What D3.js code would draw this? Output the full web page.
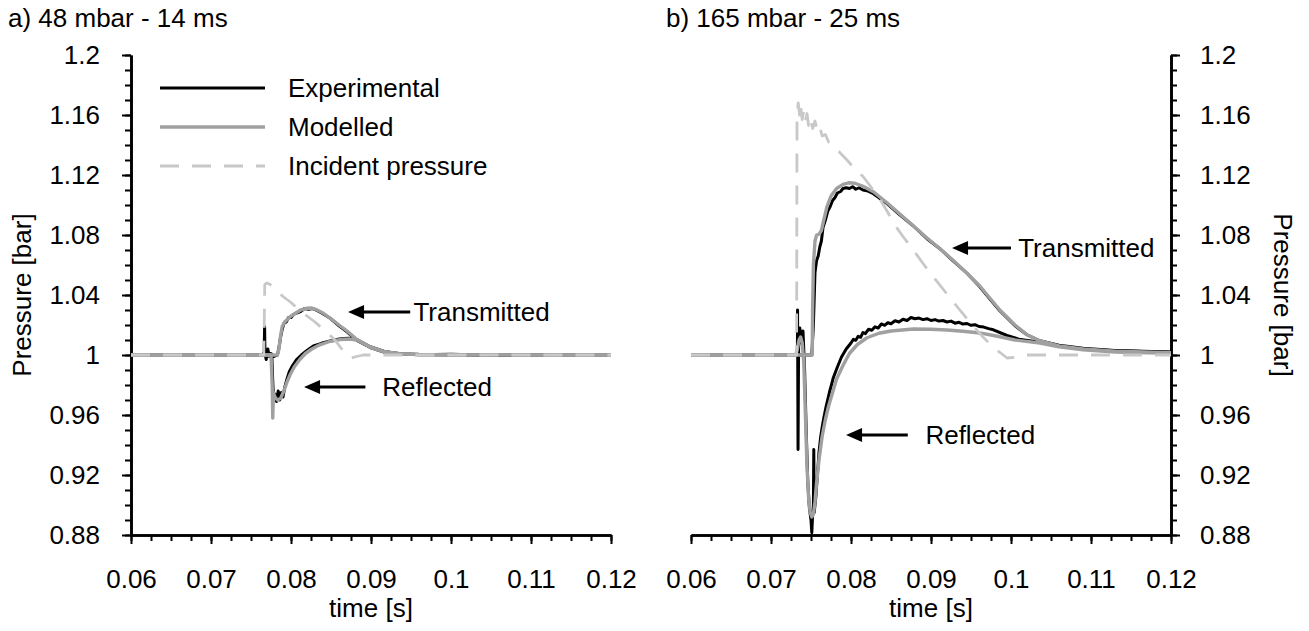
<!DOCTYPE html>
<html>
<head>
<meta charset="utf-8">
<script src="https://cdn.jsdelivr.net/npm/d3@7"></script>
<style>
  body { margin: 0; background: #fff; }
  svg { display: block; }
  text { font-family: "Liberation Sans", Arial, sans-serif; font-size: 26px; fill: #000; }
</style>
</head>
<body>
<svg id="chart" width="1309" height="631"></svg>
<script>
// Tick values and labels shared by both panels
const pressureTicks = [0.88, 0.92, 0.96, 1, 1.04, 1.08, 1.12, 1.16, 1.2];
const pressureLabels = ["0.88", "0.92", "0.96", "1", "1.04", "1.08", "1.12", "1.16", "1.2"];
const timeTicks = [0.06, 0.07, 0.08, 0.09, 0.1, 0.11, 0.12];
const timeLabels = ["0.06", "0.07", "0.08", "0.09", "0.1", "0.11", "0.12"];

const seriesNames = ["Experimental", "Modelled", "Incident pressure"];
const panelTitles = ["a) 48 mbar - 14 ms", "b) 165 mbar - 25 ms"];

// Panel a) 48 mbar - 14 ms : [time s, pressure bar]
const incidentA = [[0.0600,1.000],[0.0766,1.000],[0.07672,1.047],[0.0770,1.048],[0.0774,1.047],[0.0780,1.044],[0.0790,1.039],[0.0800,1.035],[0.0810,1.030],[0.0820,1.026],[0.0830,1.022],[0.0845,1.015],[0.0855,1.010],[0.0862,1.005],[0.0868,1.001],[0.0875,0.998],[0.0882,0.999],[0.0890,1.000],[0.1200,1.000]];
const modTransA = [[0.0600,1.000],[0.0776,1.000],[0.0783,1.000],[0.0785,1.004],[0.0787,1.013],[0.0789,1.019],[0.0792,1.022],[0.0796,1.024],[0.0800,1.026],[0.0806,1.028],[0.0812,1.030],[0.0820,1.0312],[0.0826,1.0313],[0.0832,1.0302],[0.0840,1.0280],[0.0849,1.0245],[0.0860,1.0200],[0.0870,1.0160],[0.0883,1.0100],[0.0899,1.0053],[0.0916,1.0022],[0.0935,1.0008],[0.0960,1.0003],[0.1000,1.0001],[0.1200,1.0000]];
const expTransA = [[0.0600,1.000],[0.0650,1.0003],[0.0700,0.9998],[0.0750,1.0002],[0.0764,1.000],[0.07665,1.002],[0.0767,1.019],[0.07675,1.001],[0.0769,0.997],[0.0771,1.004],[0.0773,0.999],[0.0775,1.001],[0.0778,0.999],[0.0783,1.000],[0.0785,1.005],[0.0787,1.012],[0.0789,1.017],[0.0791,1.021],[0.0794,1.022],[0.0797,1.025],[0.0800,1.025],[0.0803,1.027],[0.0807,1.028],[0.0812,1.029],[0.0817,1.031],[0.0822,1.0305],[0.0827,1.031],[0.0833,1.0295],[0.0840,1.0275],[0.0849,1.0245],[0.0860,1.0195],[0.0870,1.0155],[0.0883,1.0095],[0.0899,1.0050],[0.0916,1.0020],[0.0935,1.0010],[0.0960,1.0002],[0.1000,1.0005],[0.1050,0.9998],[0.1100,1.0003],[0.1200,1.0000]];
const modReflA = [[0.0600,1.000],[0.0775,1.000],[0.07765,0.980],[0.07772,0.958],[0.0778,0.975],[0.0780,0.972],[0.0783,0.970],[0.0787,0.971],[0.0791,0.976],[0.0795,0.982],[0.0799,0.987],[0.0804,0.992],[0.0811,0.997],[0.0818,1.001],[0.0826,1.004],[0.0836,1.0068],[0.0848,1.0090],[0.0861,1.0103],[0.0873,1.0107],[0.0883,1.0100],[0.0899,1.0053],[0.0916,1.0022],[0.0935,1.0008],[0.0960,1.0003],[0.1000,1.0001],[0.1200,1.000]];
const expReflA = [[0.0600,1.000],[0.0776,1.000],[0.0777,0.985],[0.0778,0.972],[0.0780,0.974],[0.0782,0.969],[0.0784,0.976],[0.0786,0.970],[0.0788,0.975],[0.0790,0.972],[0.0792,0.978],[0.0795,0.984],[0.0798,0.989],[0.0802,0.993],[0.0807,0.997],[0.0813,1.000],[0.0820,1.003],[0.0828,1.006],[0.0838,1.0078],[0.0850,1.0095],[0.0862,1.0108],[0.0872,1.0112],[0.0883,1.0102],[0.0899,1.0055],[0.0916,1.0025],[0.0935,1.0008],[0.0960,1.0004],[0.1000,1.0000],[0.1200,1.000]];

// Panel b) 165 mbar - 25 ms : [time s, pressure bar]
const incidentB = [[0.0600,1.000],[0.0732,1.000],[0.07325,1.160],[0.0734,1.168],[0.0736,1.159],[0.0737,1.166],[0.0739,1.157],[0.0741,1.163],[0.0743,1.156],[0.0745,1.161],[0.0747,1.153],[0.0749,1.158],[0.0752,1.151],[0.0755,1.156],[0.0758,1.149],[0.0761,1.152],[0.0764,1.146],[0.0768,1.147],[0.0772,1.142],[0.0778,1.140],[0.0786,1.135],[0.0795,1.130],[0.0805,1.124],[0.0815,1.119],[0.0825,1.112],[0.0836,1.104],[0.0845,1.096],[0.0853,1.088],[0.0865,1.079],[0.0878,1.070],[0.0890,1.061],[0.0903,1.052],[0.0918,1.042],[0.0933,1.032],[0.0950,1.021],[0.0965,1.012],[0.0978,1.005],[0.0988,1.001],[0.0995,0.998],[0.1005,0.9985],[0.1020,1.000],[0.1200,1.000]];
const modTransB = [[0.0600,1.000],[0.07515,1.000],[0.0752,1.030],[0.0753,1.060],[0.0755,1.076],[0.0757,1.080],[0.0760,1.0805],[0.0763,1.083],[0.0766,1.090],[0.0770,1.099],[0.0775,1.106],[0.0782,1.111],[0.0790,1.1138],[0.0797,1.1148],[0.0805,1.1145],[0.0815,1.1125],[0.0828,1.1088],[0.0845,1.1015],[0.0861,1.0940],[0.0878,1.0860],[0.0895,1.0780],[0.0912,1.0705],[0.0928,1.0630],[0.0945,1.0545],[0.0961,1.0460],[0.0975,1.0370],[0.0986,1.0300],[0.1005,1.0200],[0.1020,1.0135],[0.1036,1.0095],[0.1060,1.0060],[0.1090,1.0040],[0.1130,1.0025],[0.1200,1.0015]];
const expTransB = [[0.0600,1.000],[0.0660,1.0003],[0.0700,0.9998],[0.0725,1.0002],[0.0751,1.000],[0.0753,1.020],[0.0755,1.055],[0.0757,1.063],[0.0759,1.066],[0.0761,1.072],[0.0763,1.076],[0.0765,1.085],[0.0768,1.090],[0.0771,1.096],[0.0774,1.099],[0.0777,1.103],[0.0780,1.105],[0.0783,1.108],[0.0787,1.109],[0.0790,1.111],[0.0794,1.1115],[0.0798,1.111],[0.0802,1.1122],[0.0806,1.1105],[0.0810,1.1115],[0.0815,1.110],[0.0820,1.1095],[0.0828,1.1075],[0.0845,1.1010],[0.0861,1.0935],[0.0878,1.0860],[0.0895,1.0775],[0.0912,1.0705],[0.0928,1.0625],[0.0945,1.0545],[0.0961,1.0455],[0.0975,1.0365],[0.0986,1.0295],[0.1005,1.0195],[0.1020,1.0135],[0.1036,1.0095],[0.1060,1.0065],[0.1090,1.0045],[0.1130,1.0030],[0.1200,1.0020]];
const modReflB = [[0.0600,1.000],[0.0731,1.000],[0.0733,1.004],[0.0735,1.010],[0.0737,1.012],[0.0739,1.008],[0.0741,0.995],[0.0743,0.960],[0.0745,0.925],[0.0747,0.905],[0.0749,0.895],[0.0751,0.892],[0.0753,0.894],[0.0755,0.902],[0.0757,0.915],[0.0760,0.930],[0.0764,0.946],[0.0768,0.957],[0.0772,0.966],[0.0777,0.975],[0.0782,0.984],[0.0790,0.993],[0.0798,1.001],[0.0808,1.007],[0.0820,1.0115],[0.0835,1.0145],[0.0850,1.0160],[0.0878,1.0173],[0.0900,1.0172],[0.0920,1.0167],[0.0940,1.0158],[0.0961,1.0147],[0.0983,1.0125],[0.1005,1.0100],[0.1036,1.0080],[0.1060,1.0055],[0.1090,1.0035],[0.1130,1.0020],[0.1200,1.0012]];
const expReflB = [[0.0600,1.000],[0.0733,1.000],[0.07332,1.030],[0.07338,0.937],[0.07345,1.005],[0.0736,1.018],[0.0738,1.008],[0.0740,1.016],[0.0742,0.990],[0.0744,0.950],[0.0746,0.915],[0.0748,0.898],[0.0750,0.890],[0.0751,0.8815],[0.0752,0.893],[0.0753,0.900],[0.07535,0.937],[0.0754,0.895],[0.0756,0.905],[0.0758,0.920],[0.0760,0.935],[0.0762,0.945],[0.0764,0.952],[0.0766,0.958],[0.0769,0.966],[0.0773,0.975],[0.0778,0.985],[0.0783,0.992],[0.0788,0.9985],[0.0794,1.004],[0.0800,1.008],[0.0803,1.0105],[0.0806,1.0098],[0.0809,1.0125],[0.0812,1.0118],[0.0815,1.0150],[0.0818,1.0142],[0.0822,1.0172],[0.0826,1.0165],[0.0830,1.0188],[0.0834,1.0180],[0.0838,1.0207],[0.0842,1.0198],[0.0846,1.0215],[0.0850,1.0208],[0.0855,1.0228],[0.0860,1.0220],[0.0865,1.0238],[0.0870,1.0230],[0.0875,1.0250],[0.0880,1.0242],[0.0885,1.0246],[0.0890,1.0236],[0.0895,1.0242],[0.0900,1.0230],[0.0905,1.0236],[0.0910,1.0226],[0.0915,1.0230],[0.0920,1.0220],[0.0925,1.0226],[0.0930,1.0212],[0.0935,1.0218],[0.0940,1.0206],[0.0945,1.0210],[0.0950,1.0198],[0.0955,1.0202],[0.0960,1.0190],[0.0966,1.0186],[0.0972,1.0176],[0.0978,1.0168],[0.0995,1.0130],[0.1010,1.0105],[0.1036,1.0085],[0.1060,1.0060],[0.1090,1.0040],[0.1130,1.0028],[0.1200,1.0018]];

// Arrow annotations: label, pressure level, time at arrow tip, arrow tail and label start
const notesA = [
  { label: "Transmitted", p: 1.0287, tipT: 0.08713, tailT: 0.0949, textT: 0.0953 },
  { label: "Reflected",   p: 0.9787, tipT: 0.08163, tailT: 0.0893, textT: 0.0914 }
];
const notesB = [
  { label: "Transmitted", p: 1.0713, tipT: 0.09263, tailT: 0.1000, textT: 0.1009 },
  { label: "Reflected",   p: 0.9467, tipT: 0.07938, tailT: 0.0871, textT: 0.0893 }
];

const svg = d3.select("#chart");
const TOP = 55, BOTTOM = 535;
const y = d3.scaleLinear().domain([0.88, 1.2]).range([BOTTOM, TOP]);
const minorP = d3.range(0, 33).map(i => 0.88 + i * 0.01);
const minorT = d3.range(0, 25).map(i => 0.06 + i * 0.0025);

const styles = {
  exp: { stroke: "#000", width: 3, dash: null },
  mod: { stroke: "#a0a0a0", width: 3.4, dash: null },
  inc: { stroke: "#c8c8c8", width: 2.8, dash: "19,13" }
};

function styleAxis(g) {
  g.select(".domain").attr("stroke", "#000").attr("stroke-width", 2.6);
  g.selectAll(".tick line").attr("stroke", "#000").attr("stroke-width", 2);
  g.selectAll("text").attr("font-size", 26).attr("font-family", '"Liberation Sans", Arial, sans-serif').attr("fill", "#000");
}

function drawPanel(x0, x1, side, data, notes, title, titleX) {
  const x = d3.scaleLinear().domain([0.06, 0.12]).range([x0, x1]);
  const g = svg.append("g");

  // minor ticks
  const yAxisMinor = side === "left" ? d3.axisLeft(y) : d3.axisRight(y);
  g.append("g").attr("transform", `translate(${side === "left" ? x0 : x1},0)`)
    .call(yAxisMinor.tickValues(minorP).tickSize(6).tickSizeOuter(0).tickFormat(""))
    .call(styleAxis);
  g.append("g").attr("transform", `translate(0,${BOTTOM})`)
    .call(d3.axisBottom(x).tickValues(minorT).tickSize(6).tickSizeOuter(0).tickFormat(""))
    .call(styleAxis);

  // major ticks with labels
  const yAxis = side === "left" ? d3.axisLeft(y) : d3.axisRight(y);
  g.append("g").attr("transform", `translate(${side === "left" ? x0 : x1},0)`)
    .call(yAxis.tickValues(pressureTicks).tickSize(9).tickSizeOuter(0)
      .tickPadding(side === "left" ? 22 : 20)
      .tickFormat((d, i) => pressureLabels[i]))
    .call(styleAxis);
  g.append("g").attr("transform", `translate(0,${BOTTOM})`)
    .call(d3.axisBottom(x).tickValues(timeTicks).tickSize(9).tickSizeOuter(0).tickPadding(26)
      .tickFormat((d, i) => timeLabels[i]))
    .call(styleAxis);

  // curves: experimental underneath, modelled above, incident dashed on top
  const line = d3.line().x(d => x(d[0])).y(d => y(d[1]));
  const curves = [
    [data.expTrans, styles.exp], [data.expRefl, styles.exp],
    [data.modTrans, styles.mod], [data.modRefl, styles.mod],
    [data.incident, styles.inc]
  ];
  curves.forEach(([pts, s]) => {
    g.append("path").datum(pts).attr("d", line)
      .attr("fill", "none").attr("stroke", s.stroke).attr("stroke-width", s.width)
      .attr("stroke-linejoin", "round").attr("stroke-dasharray", s.dash);
  });

  // arrows
  notes.forEach(n => {
    const tx = x(n.tipT), ty = y(n.p), ex = x(n.tailT);
    g.append("line").attr("x1", tx + 12).attr("y1", ty).attr("x2", ex).attr("y2", ty)
      .attr("stroke", "#000").attr("stroke-width", 3);
    g.append("path").attr("d", `M${tx},${ty} L${tx + 16},${ty - 7} L${tx + 16},${ty + 7} Z`).attr("fill", "#000");
    g.append("text").attr("x", x(n.textT)).attr("y", ty).attr("dy", "0.35em").text(n.label);
  });

  // axis titles
  g.append("text").attr("x", (x0 + x1) / 2).attr("y", 617).attr("text-anchor", "middle").text("time [s]");
  const yl = side === "left" ? 22 : 1283;
  g.append("text").attr("transform", `translate(${yl},${(TOP + BOTTOM) / 2}) rotate(${side === "left" ? -90 : 90})`)
    .attr("text-anchor", "middle").attr("dy", "0.35em").text("Pressure [bar]");
  g.append("text").attr("x", titleX).attr("y", 27).text(title);
}

drawPanel(131, 611, "left",
  { incident: incidentA, modTrans: modTransA, expTrans: expTransA, modRefl: modReflA, expRefl: expReflA },
  notesA, panelTitles[0], 8);
drawPanel(691, 1171, "right",
  { incident: incidentB, modTrans: modTransB, expTrans: expTransB, modRefl: modReflB, expRefl: expReflB },
  notesB, panelTitles[1], 666);

// legend
const legend = svg.append("g");
const legendStyles = [styles.exp, styles.mod, styles.inc];
const legendY = [88, 127, 166];
seriesNames.forEach((name, i) => {
  const s = legendStyles[i];
  legend.append("line").attr("x1", 160).attr("x2", 265).attr("y1", legendY[i]).attr("y2", legendY[i])
    .attr("stroke", s.stroke).attr("stroke-width", s.width).attr("stroke-dasharray", s.dash);
  legend.append("text").attr("x", 288).attr("y", legendY[i]).attr("dy", "0.35em").text(name);
});
</script>
</body>
</html>
